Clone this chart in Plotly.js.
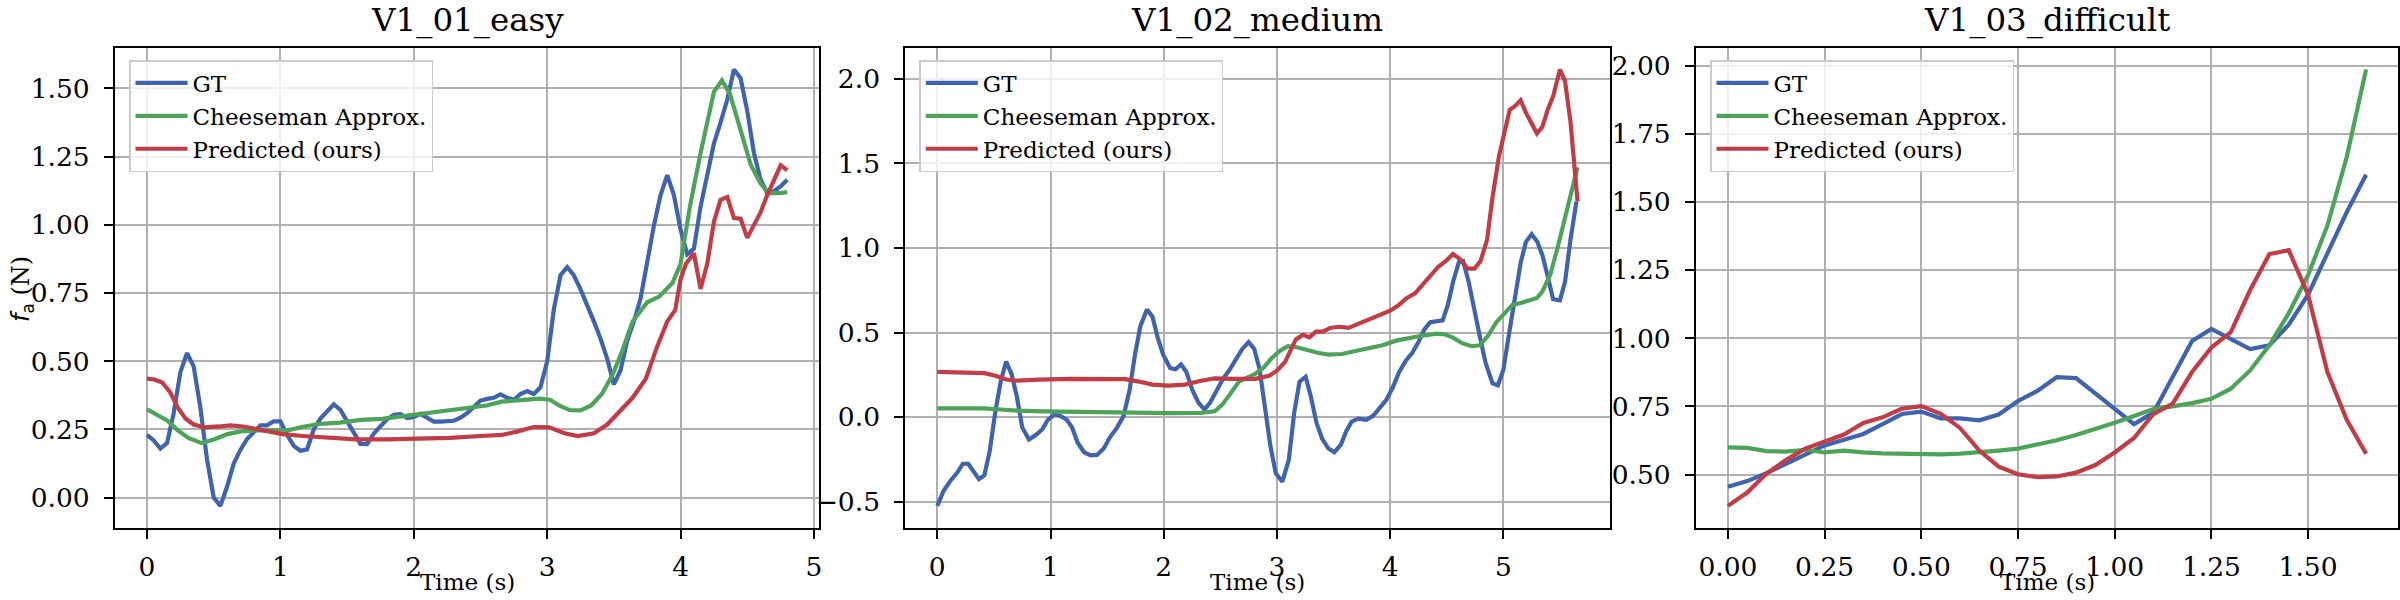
<!DOCTYPE html>
<html>
<head>
<meta charset="utf-8">
<script src="https://cdn.plot.ly/plotly-3.0.1.min.js"></script>
<style>
  html, body { margin: 0; padding: 0; background: #fff; }
  #chart { width: 2400px; height: 600px; }
</style>
</head>
<body>
<div id="chart"></div>
<script>
// f_a over time for three EuRoC sequences: GT vs Cheeseman approx. vs our prediction

const panelTitles = ['V1_01_easy', 'V1_02_medium', 'V1_03_difficult'];
const seriesNames = ['GT', 'Cheeseman Approx.', 'Predicted (ours)'];

// --- V1_01_easy ---
const easyGtTime = [
    0.00, 0.05, 0.10, 0.15, 0.20, 0.25, 0.30, 0.35, 0.40, 0.45,
    0.50, 0.55, 0.60, 0.65, 0.70, 0.75, 0.80, 0.85, 0.90, 0.95,
    1.00, 1.05, 1.10, 1.15, 1.20, 1.25, 1.30, 1.35, 1.40, 1.45,
    1.50, 1.55, 1.60, 1.65, 1.70, 1.75, 1.80, 1.85, 1.90, 1.95,
    2.00, 2.05, 2.10, 2.15, 2.20, 2.25, 2.30, 2.35, 2.40, 2.45,
    2.50, 2.55, 2.60, 2.65, 2.70, 2.75, 2.80, 2.85, 2.90, 2.95,
    3.00, 3.05, 3.10, 3.15, 3.20, 3.25, 3.30, 3.35, 3.40, 3.45,
    3.50, 3.55, 3.60, 3.65, 3.70, 3.75, 3.80, 3.85, 3.90, 3.95,
    4.00, 4.05, 4.10, 4.15, 4.20, 4.25, 4.30, 4.35, 4.40, 4.45,
    4.50, 4.55, 4.60, 4.65, 4.70, 4.75, 4.80];
const easyGt = [
    0.23, 0.21, 0.18, 0.20, 0.31, 0.46, 0.53, 0.48, 0.33, 0.14,
    0.00, -0.03, 0.04, 0.125, 0.175, 0.215, 0.24, 0.265, 0.265, 0.28,
    0.28, 0.23, 0.19, 0.172, 0.177, 0.25, 0.29, 0.317, 0.342, 0.322,
    0.282, 0.24, 0.197, 0.196, 0.235, 0.262, 0.287, 0.304, 0.306, 0.292,
    0.296, 0.307, 0.295, 0.279, 0.279, 0.282, 0.282, 0.293, 0.31, 0.332,
    0.356, 0.362, 0.366, 0.379, 0.366, 0.359, 0.38, 0.391, 0.38, 0.405,
    0.50, 0.69, 0.815, 0.845, 0.815, 0.763, 0.709, 0.646, 0.583, 0.509,
    0.415, 0.467, 0.576, 0.646, 0.73, 0.87, 0.997, 1.109, 1.182, 1.109,
    0.983, 0.892, 0.913, 1.067, 1.179, 1.298, 1.375, 1.459, 1.569, 1.537,
    1.417, 1.263, 1.165, 1.116, 1.123, 1.141, 1.165];
const easyCheeseTime = [
    0, 0.075, 0.153, 0.23, 0.31, 0.41, 0.506, 0.604, 0.702, 0.82,
    0.937, 1.055, 1.17, 1.29, 1.447, 1.604, 1.76, 1.918, 2.075, 2.23,
    2.39, 2.545, 2.66, 2.82, 2.94, 3.02, 3.09, 3.17, 3.25, 3.33,
    3.41, 3.49, 3.565, 3.64, 3.75, 3.84, 3.94, 4.0, 4.07, 4.15,
    4.25, 4.31, 4.37, 4.45, 4.525, 4.6, 4.66, 4.74, 4.8];
const easyCheese = [
    0.324, 0.303, 0.282, 0.247, 0.219, 0.20, 0.214, 0.233, 0.243, 0.247,
    0.247, 0.247, 0.26, 0.27, 0.275, 0.285, 0.289, 0.299, 0.306, 0.317,
    0.327, 0.338, 0.352, 0.359, 0.363, 0.359, 0.338, 0.321, 0.32, 0.338,
    0.38, 0.45, 0.541, 0.646, 0.716, 0.737, 0.787, 0.857, 1.067, 1.263,
    1.487, 1.529, 1.48, 1.347, 1.221, 1.151, 1.116, 1.116, 1.12];
const easyPredTime = [
    0, 0.055, 0.114, 0.173, 0.23, 0.29, 0.35, 0.427, 0.545, 0.624,
    0.72, 0.86, 1.016, 1.17, 1.37, 1.565, 1.8, 2.035, 2.27, 2.5,
    2.66, 2.78, 2.9, 3.015, 3.13, 3.23, 3.35, 3.45, 3.545, 3.64,
    3.74, 3.82, 3.9, 3.96, 4.0, 4.04, 4.1, 4.15, 4.2, 4.25,
    4.3, 4.35, 4.4, 4.45, 4.5, 4.55, 4.6, 4.65, 4.7, 4.75, 4.8];
const easyPred = [
    0.436, 0.433, 0.422, 0.387, 0.331, 0.289, 0.268, 0.258, 0.261, 0.265,
    0.261, 0.247, 0.233, 0.226, 0.219, 0.214, 0.214, 0.216, 0.219, 0.226,
    0.23, 0.243, 0.259, 0.258, 0.236, 0.226, 0.236, 0.268, 0.317, 0.366,
    0.436, 0.548, 0.646, 0.688, 0.80, 0.857, 0.896, 0.765, 0.857, 1.011,
    1.092, 1.102, 1.025, 1.022, 0.952, 0.997, 1.046, 1.109, 1.165, 1.218, 1.2];

// --- V1_02_medium ---
const medGtTime = [
    0, 0.057, 0.12, 0.177, 0.225, 0.273, 0.32, 0.368, 0.416, 0.464,
    0.512, 0.56, 0.608, 0.655, 0.703, 0.75, 0.81, 0.87, 0.928, 0.976,
    1.038, 1.086, 1.144, 1.19, 1.24, 1.297, 1.354, 1.41, 1.47, 1.526,
    1.589, 1.646, 1.7, 1.746, 1.794, 1.852, 1.9, 1.947, 1.995, 2.057,
    2.105, 2.153, 2.2, 2.25, 2.306, 2.36, 2.41, 2.464, 2.52, 2.58,
    2.636, 2.694, 2.75, 2.8, 2.847, 2.895, 2.943, 2.99, 3.048, 3.105,
    3.153, 3.2, 3.254, 3.3, 3.35, 3.4, 3.455, 3.507, 3.565, 3.612,
    3.66, 3.718, 3.79, 3.85, 3.91, 3.967, 4.024, 4.08, 4.14, 4.196,
    4.254, 4.3, 4.354, 4.41, 4.464, 4.51, 4.56, 4.607, 4.645, 4.694,
    4.746, 4.794, 4.842, 4.904, 4.952, 5.0, 5.048, 5.105, 5.153, 5.2,
    5.25, 5.3, 5.345, 5.392, 5.44, 5.5, 5.545, 5.593, 5.646];
const medGt = [
    -0.525, -0.434, -0.373, -0.328, -0.276, -0.276, -0.321, -0.367, -0.344, -0.197,
    0.029, 0.21, 0.328, 0.256, 0.12, -0.061, -0.133, -0.106, -0.072, -0.016,
    0.018, 0.007, -0.016, -0.061, -0.152, -0.208, -0.226, -0.224, -0.186, -0.118,
    -0.061, 0.007, 0.165, 0.369, 0.538, 0.636, 0.595, 0.47, 0.369, 0.29,
    0.283, 0.312, 0.267, 0.165, 0.086, 0.045, 0.086, 0.154, 0.222, 0.278,
    0.335, 0.403, 0.443, 0.403, 0.283, 0.075, -0.174, -0.333, -0.382, -0.253,
    0.029, 0.21, 0.238, 0.12, -0.034, -0.129, -0.186, -0.208, -0.163, -0.084,
    -0.027, -0.009, -0.016, 0.007, 0.057, 0.102, 0.176, 0.267, 0.335, 0.38,
    0.448, 0.516, 0.561, 0.566, 0.572, 0.663, 0.81, 0.916, 0.923, 0.799,
    0.618, 0.471, 0.324, 0.199, 0.188, 0.278, 0.482, 0.72, 0.912, 1.036,
    1.081, 1.036, 0.957, 0.833, 0.697, 0.69, 0.799, 1.048, 1.274];
const medCheeseTime = [
    0, 0.225, 0.416, 0.56, 0.703, 0.943, 1.277, 1.66, 2.043, 2.33,
    2.45, 2.52, 2.593, 2.665, 2.737, 2.81, 2.88, 2.95, 3.024, 3.096,
    3.167, 3.263, 3.36, 3.455, 3.574, 3.694, 3.813, 3.933, 4.053, 4.172,
    4.292, 4.411, 4.483, 4.555, 4.636, 4.722, 4.794, 4.866, 4.938, 5.01,
    5.08, 5.153, 5.225, 5.297, 5.344, 5.416, 5.488, 5.56, 5.656];
const medCheese = [
    0.052, 0.054, 0.052, 0.045, 0.038, 0.034, 0.029, 0.027, 0.023, 0.025,
    0.034, 0.075, 0.143, 0.21, 0.233, 0.256, 0.29, 0.346, 0.391, 0.419,
    0.414, 0.396, 0.38, 0.369, 0.373, 0.391, 0.41, 0.425, 0.452, 0.47,
    0.482, 0.493, 0.489, 0.47, 0.437, 0.419, 0.425, 0.482, 0.561, 0.613,
    0.663, 0.674, 0.686, 0.704, 0.742, 0.844, 1.025, 1.229, 1.477];
const medPredTime = [
    0, 0.225, 0.416, 0.512, 0.608, 0.703, 0.895, 1.18, 1.47, 1.66,
    1.78, 1.9, 2.043, 2.187, 2.33, 2.45, 2.617, 2.81, 2.93, 3.0,
    3.07, 3.12, 3.167, 3.23, 3.287, 3.344, 3.407, 3.469, 3.55, 3.632,
    3.718, 3.813, 3.909, 4.0, 4.077, 4.148, 4.22, 4.292, 4.364, 4.426,
    4.493, 4.555, 4.617, 4.684, 4.746, 4.799, 4.856, 4.904, 4.962, 5.01,
    5.057, 5.105, 5.153, 5.2, 5.25, 5.297, 5.344, 5.392, 5.44, 5.5,
    5.545, 5.593, 5.632, 5.656];
const medPred = [
    0.267, 0.262, 0.26, 0.244, 0.222, 0.215, 0.222, 0.226, 0.226, 0.224,
    0.21, 0.192, 0.186, 0.192, 0.215, 0.229, 0.226, 0.226, 0.244, 0.274,
    0.324, 0.391, 0.459, 0.486, 0.471, 0.505, 0.505, 0.527, 0.534, 0.527,
    0.55, 0.577, 0.606, 0.629, 0.663, 0.704, 0.731, 0.787, 0.84, 0.889,
    0.923, 0.964, 0.934, 0.878, 0.878, 0.923, 1.047, 1.296, 1.545, 1.681,
    1.817, 1.84, 1.873, 1.799, 1.738, 1.677, 1.715, 1.817, 1.896, 2.055,
    1.986, 1.749, 1.455, 1.274];

// --- V1_03_difficult ---
const hardTime = [
    0.00, 0.05, 0.10, 0.15, 0.20, 0.25, 0.30, 0.35, 0.40, 0.45,
    0.50, 0.55, 0.60, 0.65, 0.70, 0.75, 0.80, 0.85, 0.90, 0.95,
    1.00, 1.05, 1.10, 1.15, 1.20, 1.25, 1.30, 1.35, 1.40, 1.45,
    1.50, 1.55, 1.60, 1.65];
const hardGt = [
    0.455, 0.476, 0.505, 0.54, 0.572, 0.607, 0.628, 0.649, 0.685, 0.722,
    0.731, 0.706, 0.706, 0.699, 0.72, 0.77, 0.807, 0.857, 0.854, 0.798,
    0.745, 0.685, 0.727, 0.855, 0.99, 1.034, 0.997, 0.96, 0.974, 1.05,
    1.16, 1.309, 1.463, 1.6];
const hardCheese = [
    0.6, 0.598, 0.586, 0.584, 0.591, 0.581, 0.588, 0.581, 0.578, 0.577,
    0.574, 0.574, 0.577, 0.581, 0.588, 0.595, 0.609, 0.626, 0.645, 0.666,
    0.69, 0.715, 0.74, 0.75, 0.762, 0.778, 0.815, 0.882, 0.974, 1.092,
    1.232, 1.413, 1.665, 1.986];
const hardPred = [
    0.385, 0.434, 0.504, 0.553, 0.595, 0.623, 0.647, 0.689, 0.71, 0.742,
    0.751, 0.723, 0.671, 0.588, 0.529, 0.501, 0.49, 0.493, 0.507, 0.535,
    0.581, 0.634, 0.722, 0.76, 0.876, 0.966, 1.022, 1.176, 1.309, 1.323,
    1.16, 0.876, 0.701, 0.576];

const colors = ['#3f63ad', '#4ea35a', '#c03d47'];
const serif = 'DejaVu Serif';

const W = 2400, H = 600;
// axes boxes in pixels (left, right); shared top/bottom
const boxes = [[115, 819.3], [905.3, 1609.6], [1696, 2398]];
const boxTop = 47.7, boxBottom = 527.7;

const panels = [
    { series: [[easyGtTime, easyGt], [easyCheeseTime, easyCheese], [easyPredTime, easyPred]], ydtick: 0.25, yfmt: '.2f', xdtick: 1, xfmt: 'd' },
    { series: [[medGtTime, medGt], [medCheeseTime, medCheese], [medPredTime, medPred]], ydtick: 0.5, yfmt: '.1f', xdtick: 1, xfmt: 'd' },
    { series: [[hardTime, hardGt], [hardTime, hardCheese], [hardTime, hardPred]], ydtick: 0.25, yfmt: '.2f', xdtick: 0.25, xfmt: '.2f' },
];

// matplotlib-style 5% auto margins
function padRange(arrs) {
    const all = [].concat(...arrs);
    const lo = Math.min(...all), hi = Math.max(...all);
    const m = (hi - lo) * 0.05;
    return [lo - m, hi + m];
}

function axisStyle(extra) {
    return Object.assign({
        showline: true, linecolor: '#000', linewidth: 2, mirror: true,
        showgrid: true, gridcolor: '#b0b0b0', gridwidth: 2,
        zeroline: false,
        ticks: 'outside', ticklen: 9, tickwidth: 2, tickcolor: '#000',
        tickfont: { family: serif, size: 26.5, color: '#000' },
        fixedrange: true,
    }, extra);
}

const traces = [];
const layout = {
    width: W, height: H,
    margin: { l: 0, r: 0, t: 0, b: 0 },
    paper_bgcolor: '#fff', plot_bgcolor: '#fff',
    font: { family: serif, color: '#000' },
    showlegend: true,
    annotations: [],
};

panels.forEach((p, i) => {
    const n = i === 0 ? '' : String(i + 1);
    const [left, right] = boxes[i];
    const dom = [left / W, right / W];
    const legendKey = 'legend' + n;

    p.series.forEach(([t, v], k) => {
        traces.push({
            x: t, y: v, type: 'scatter', mode: 'lines',
            name: seriesNames[k],
            line: { color: colors[k], width: 4.2 },
            xaxis: 'x' + n, yaxis: 'y' + n,
            legend: legendKey,
        });
    });

    layout['xaxis' + n] = axisStyle({
        domain: dom, anchor: 'y' + n,
        range: padRange(p.series.map(s => s[0])),
        dtick: p.xdtick, tick0: 0, tickformat: p.xfmt,
        ticklabelstandoff: 5,
    });
    layout['yaxis' + n] = axisStyle({
        domain: [1 - boxBottom / H, 1 - boxTop / H], anchor: 'x' + n,
        range: padRange(p.series.map(s => s[1])),
        dtick: p.ydtick, tick0: 0, tickformat: p.yfmt,
        ticklabelstandoff: 9,
    });

    layout[legendKey] = {
        x: (left + 14) / W, y: 1 - 60 / H, xanchor: 'left', yanchor: 'top',
        bgcolor: 'rgba(255,255,255,0.8)', bordercolor: '#cccccc', borderwidth: 1.5,
        font: { family: serif, size: 23, color: '#000' },
        itemwidth: 52,
        tracegroupgap: 0,
    };

    const cx = (left + right) / 2 / W;
    layout.annotations.push({
        text: panelTitles[i], xref: 'paper', yref: 'paper', x: cx, y: 1 - 20 / H,
        xanchor: 'center', yanchor: 'middle', showarrow: false,
        font: { family: serif, size: 32.5, color: '#000' },
    });
    layout.annotations.push({
        text: 'Time (s)', xref: 'paper', yref: 'paper', x: cx, y: 1 - 582 / H,
        xanchor: 'center', yanchor: 'middle', showarrow: false,
        font: { family: serif, size: 23, color: '#000' },
    });
});

// y label only on the first panel
layout.annotations.push({
    text: '<span style="font-family:\'DejaVu Sans\'"><i>f</i><sub>a</sub></span> (N)',
    xref: 'paper', yref: 'paper', x: 22 / W, y: 1 - 289 / H,
    xanchor: 'center', yanchor: 'middle', textangle: -90, showarrow: false,
    font: { family: serif, size: 24, color: '#000' },
});

Plotly.newPlot('chart', traces, layout, { displayModeBar: false, staticPlot: true });
</script>
</body>
</html>
